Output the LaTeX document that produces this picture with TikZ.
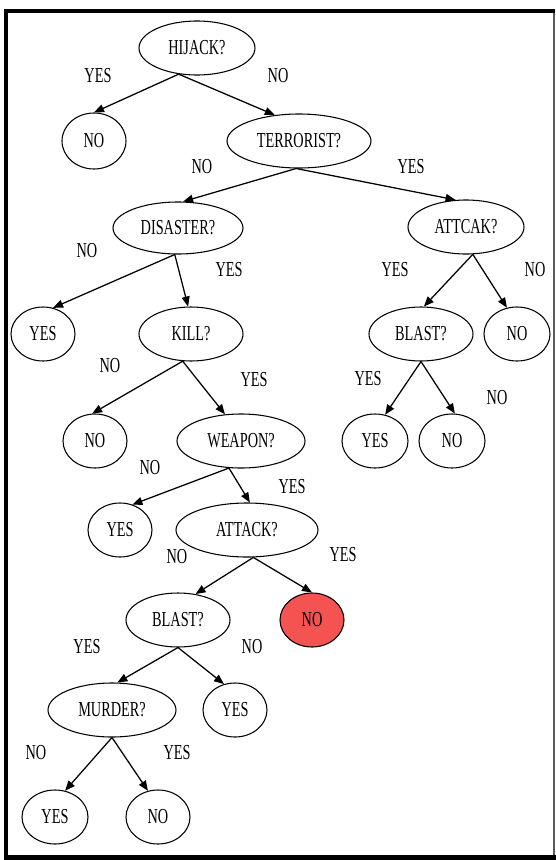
\documentclass[tikz,border=0pt]{standalone}
\usepackage{fontspec}
\setmainfont{Liberation Serif}[FakeStretch=0.67]
\usetikzlibrary{shapes.geometric,arrows.meta}
\definecolor{leafred}{RGB}{245,82,82}

\begin{document}
\begin{tikzpicture}[x=0.75pt,y=0.75pt,yscale=-1,xscale=1,
  every node/.style={font=\fontsize{16}{18}\selectfont,inner sep=0.75pt},
  oval/.style 2 args={ellipse,draw,line width=0.8pt,fill=white,minimum width=#1*0.75pt,minimum height=#2*0.75pt,inner sep=0pt},
  branch/.style={line width=0.95pt,-{Triangle[length=7.5pt,width=6pt]}}]
\useasboundingbox (0,0) rectangle (556,860);

%Frame
\draw [line width=0.8pt,color={rgb,255:red,90;green,90;blue,90}] (554,10.5) -- (554,857.5) ;
\draw [line width=3pt] (6,857.5) -- (6,10.5) -- (555,10.5) ;
\draw [line width=3.75pt] (4,857.5) -- (556,857.5) ;

%Shape: Ellipse (questions and answers, row by row)
\node [oval={116}{54}] (hijack) at (197,48) {HIJACK?};
\node [oval={64}{56}] (noA) at (94,141) {NO};
\node [oval={144}{54}] (terrorist) at (299,141) {TERRORIST?};
\node [oval={130}{52}] (disaster) at (178,228) {DISASTER?};
\node [oval={116}{54}] (attcak) at (466,227) {ATTCAK?};
\node [oval={64}{54}] (yesA) at (43,334) {YES};
\node [oval={104}{54}] (kill) at (191,334) {KILL?};
\node [oval={104}{54}] (blastA) at (421,334) {BLAST?};
\node [oval={66}{54}] (noB) at (517,334) {NO};
\node [oval={64}{54}] (noC) at (95,441) {NO};
\node [oval={128}{54}] (weapon) at (241,441) {WEAPON?};
\node [oval={66}{54}] (yesB) at (375,441) {YES};
\node [oval={66}{54}] (noD) at (452,441) {NO};
\node [oval={64}{54}] (yesC) at (120,530) {YES};
\node [oval={142}{54}] (attack) at (247,530) {ATTACK?};
\node [oval={104}{54}] (blastB) at (178,620) {BLAST?};
\node [oval={64}{54},fill=leafred] (noRed) at (312,620) {NO};
\node [oval={128}{54}] (murder) at (112,710) {MURDER?};
\node [oval={64}{54}] (yesD) at (235,710) {YES};
\node [oval={66}{54}] (yesE) at (55,817) {YES};
\node [oval={64}{54}] (noE) at (158,817) {NO};

%Straight Lines
\draw [branch] (hijack.235) -- (noA.north) ;
\draw [branch] (hijack.235) -- (terrorist.133) ;
\draw [branch] (terrorist.264) -- (disaster.79) ;
\draw [branch] (terrorist.264) -- (attcak.111) ;
\draw [branch] (disaster.263) -- (yesA.69) ;
\draw [branch] (disaster.263) -- (kill.96) ;
\draw [branch] (attcak.284) -- (blastA.84) ;
\draw [branch] (attcak.284) -- (noB.111) ;
\draw [branch] (kill.253) -- (noC.96) ;
\draw [branch] (kill.253) -- (weapon.121) ;
\draw [branch] (blastA.south) -- (yesB.69) ;
\draw [branch] (blastA.south) -- (noD.84) ;
\draw [branch] (weapon.246) -- (yesC.64) ;
\draw [branch] (weapon.246) -- (attack.84) ;
\draw [branch] (attack.283) -- (blastB.56) ;
\draw [branch] (attack.283) -- (noRed.north) ;
\draw [branch] (blastB.south) -- (murder.79) ;
\draw [branch] (blastB.south) -- (yesD.113) ;
\draw [branch] (murder.south) -- (yesE.69) ;
\draw [branch] (murder.south) -- (noE.111) ;

% Text Node
\node (lYesA) at (98,76) {YES};
\node (lNoA) at (278,76) {NO};
\node (lNoB) at (202,167) {NO};
\node (lYesB) at (411,167) {YES};
\node (lNoC) at (87,251) {NO};
\node (lYesC) at (229,270) {YES};
\node (lYesD) at (395,270) {YES};
\node (lNoD) at (535,270) {NO};
\node (lNoE) at (110,366) {NO};
\node (lYesE) at (254,380) {YES};
\node (lYesF) at (368,379) {YES};
\node (lNoF) at (497,398) {NO};
\node (lNoG) at (150,468) {NO};
\node (lYesG) at (292,487) {YES};
\node (lNoH) at (177,557) {NO};
\node (lYesH) at (343,555) {YES};
\node (lYesI) at (87,647) {YES};
\node (lNoI) at (252,647) {NO};
\node (lNoJ) at (36,753) {NO};
\node (lYesJ) at (177,753) {YES};

\end{tikzpicture}
\end{document}
